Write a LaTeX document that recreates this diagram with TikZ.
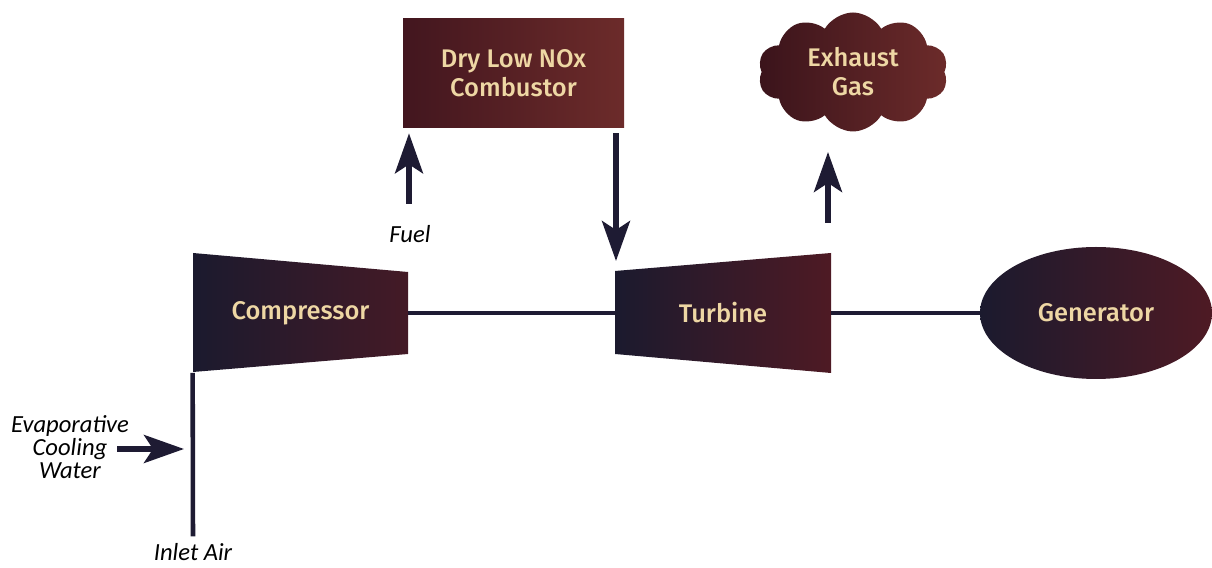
\documentclass[tikz,border=0pt]{standalone}
\usepackage{fontspec}
\setmainfont{Fira Sans}[UprightFont={* Medium}]
\newfontfamily\notefont{Carlito}
\usepackage{xcolor}
\usetikzlibrary{positioning,arrows.meta,calc,shapes.geometric,shapes.symbols}
\definecolor{ink}{HTML}{1E1B33}
\definecolor{navy}{HTML}{1B1A2E}
\definecolor{wine}{HTML}{4E1A24}
\definecolor{rust}{HTML}{6C2B2A}
\definecolor{tan}{HTML}{EED7A4}

\begin{document}
\begin{tikzpicture}[>=Stealth,
  txt/.style={text=tan,font=\fontsize{14.5}{16.5}\selectfont,align=center,inner sep=0pt},
  comb/.style={txt,minimum width=4.42cm,minimum height=2.18cm,left color=wine!85!black,middle color=wine!55!black,right color=rust},
  blade/.style={txt,minimum height=2.38cm},
  genbox/.style={txt,ellipse,minimum width=4.64cm,minimum height=2.64cm,left color=navy,right color=wine},
  exh/.style={txt,cloud,cloud puffs=10,cloud puff arc=120,aspect=1.6,minimum width=3.8cm,minimum height=2.38cm,left color=wine!75!black,right color=rust},
  note/.style={font=\notefont\itshape\fontsize{14}{13}\selectfont,align=center,text=black,inner sep=1pt},
  flow/.style={-{Stealth[length=8mm,width=5.6mm,inset=1.8mm]},line width=3pt,draw=ink},
  shaft/.style={line width=2.6pt,draw=ink}]
  \useasboundingbox (0,0) rectangle (24.24,11.34);
  % compressor and turbine blades
  \shade[left color=navy,right color=wine!80!navy] (3.86,6.28) -- (8.16,5.90) -- (8.16,4.26) -- (3.86,3.90) -- cycle;
  \shade[left color=navy,right color=wine] (12.30,5.92) -- (16.62,6.28) -- (16.62,3.88) -- (12.30,4.26) -- cycle;
  \node[blade,minimum width=4.30cm] (comp) at (6.01,5.08) {Compressor};
  \node[blade,minimum width=4.32cm] (turb) at (14.46,5.08) {Turbine};
  \node[genbox] (gen) at (21.92,5.08) {Generator};
  % combustor and exhaust
  \node[comb] (cmb) at (10.27,9.87) {Dry Low NOx\\Combustor};
  \node[exh] (gas) at (17.06,9.90) {Exhaust\\Gas};
  % labels
  \node[note] (fuel) at (8.20,6.66) {Fuel};
  \node[note] (cool) at (1.40,2.40) {Evaporative\\Cooling\\Water};
  \node[note] (inl) at (3.86,0.30) {Inlet Air};
  \coordinate (fuelin) at (8.18,7.26);
  \coordinate (tin) at (12.32,6.12);
  \coordinate (exout) at (16.56,6.88);
  \coordinate (extip) at (16.56,8.30);
  \coordinate (cwin) at (2.34,2.36);
  \coordinate (cwtip) at (3.68,2.36);
  % shaft and flows
  \draw[shaft] (comp.east) -- (turb.west);
  \draw[shaft] (turb.east) -- (gen.west);
  \draw[shaft,shorten <=1mm] (inl.north) -- (comp.south west);
  \draw[flow,shorten >=1mm] (fuelin) -- (fuelin |- cmb.south);
  \draw[flow,shorten <=1mm] (cmb.south -| tin) -- (tin);
  \draw[flow] (exout) -- (extip);
  \draw[flow] (cwin) -- (cwtip);
\end{tikzpicture}
\end{document}
